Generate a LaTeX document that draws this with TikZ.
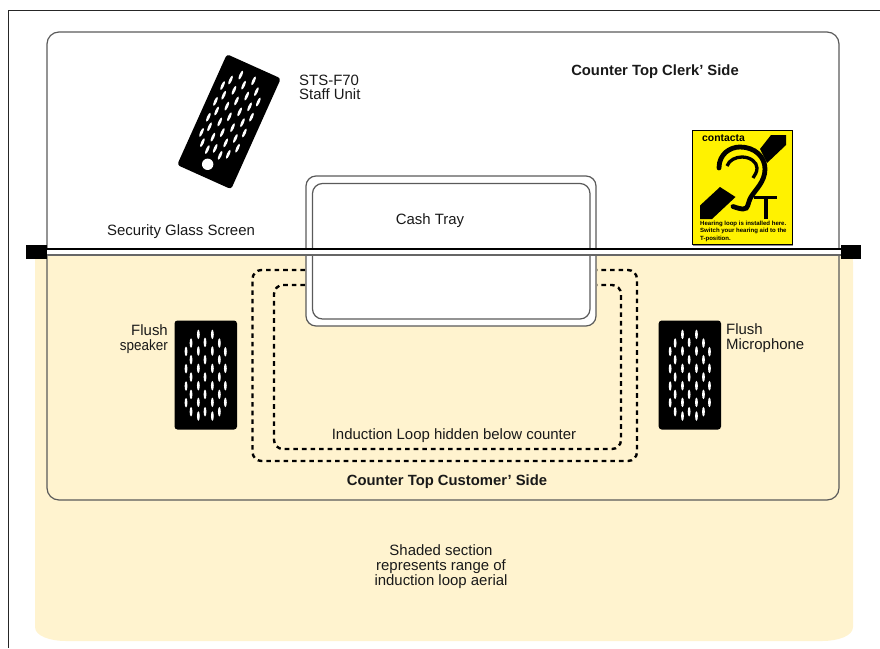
\documentclass[tikz,border=0pt]{standalone}
\usepackage{fontspec}
\setmainfont{Liberation Sans}
\definecolor{rangecol}{HTML}{FFF3CF}
\definecolor{edge}{HTML}{5A5A5A}
\definecolor{signy}{HTML}{FFF200}
\newcommand{\slotgrid}{%
  \foreach \c/\rows in {-59/{-70,-18,34,84},-44/{-95,-45,7,59,111},-22/{-121,-71,-19,33,83,124},-2/{-97,-45,7,59,111},20/{-121,-71,-19,33,83,124},41/{-95,-45,7,59,111},59/{-69,-19,33,83}}{
    \foreach \r in \rows {\fill[white] (\c,\r) ellipse [x radius=1.4pt,y radius=4.8pt];}
  }}
\tikzset{
  txt/.style={inner sep=0pt,text=black!90,font=\fontsize{14.95}{16}\selectfont},
  btxt/.style={txt,font=\fontsize{14.8}{16}\selectfont\bfseries},
  wall/.style={draw=edge,line width=1.2pt},
  loopline/.style={draw=black,line width=2.4pt,dash pattern=on 4.6pt off 4pt},
  trayline/.style={draw=edge,line width=1.2pt,rounded corners=10pt,fill=white},
  blackbox/.style={fill=black,rounded corners=3pt},
  signtxt/.style={inner sep=0pt,anchor=base west,font=\fontsize{6.05}{7}\selectfont\bfseries}
}
\begin{document}
\begin{tikzpicture}[x=1pt,y=-1pt]
\useasboundingbox (0,0) rectangle (880,648);
% frame
\draw[black!85,line width=1pt] (8.5,648) -- (8.5,10.5) -- (880,10.5);
% shaded range
\fill[rangecol] (35,258) -- (47,255) -- (848,255) .. controls (852,255) and (853,258) .. (853,262) -- (853,627)
  .. controls (853,636) and (838,641) .. (822,641) -- (66,641) .. controls (50,641) and (35,636) .. (35,627) -- cycle;
% counter
\draw[wall,rounded corners=12pt] (47,32) rectangle (839,500);
% loops
\draw[loopline,rounded corners=9pt] (305,270) -- (252.5,270) -- (252.5,461) -- (637,461) -- (637,270) -- (597,270);
\draw[loopline,rounded corners=9pt] (305,285) -- (274,285) -- (274,449) -- (621,449) -- (621,285) -- (597,285);
% tray
\draw[trayline] (306,176) rectangle (596,326);
\draw[trayline] (312.5,183.5) rectangle (590,319);
% glass
\fill[white] (47,249) rectangle (841,255);
\draw[black,line width=1.2pt] (47,249) -- (841,249);
\draw[black!60,line width=2pt] (47,255) -- (841,255);
\fill[black] (26,244.5) rectangle (47,259);
\fill[black] (841,245) rectangle (861,259);
% staff unit
\begin{scope}[shift={(229,121.7)},rotate=-24.2]
  \fill[blackbox] (-29.6,-60.7) rectangle (29.6,60.7);
  \fill[white] (-2,47.6) circle [radius=5.7pt];
  \begin{scope}[shift={(-1,-7)},x=.3333pt,y=-.3333pt]
    \slotgrid
  \end{scope}
\end{scope}
% speaker and microphone
\fill[blackbox] (174.5,320.5) rectangle (237,429.5);
\begin{scope}[shift={(205.7,374.7)},x=.3333pt,y=-.3333pt]\slotgrid\end{scope}
\fill[blackbox] (658.7,320.5) rectangle (721,429.5);
\begin{scope}[shift={(689.8,374.7)},x=.3333pt,y=-.3333pt]\slotgrid\end{scope}
% sign
\fill[black!45] (693,131) rectangle (793,245.5);
\fill[signy,draw=black,line width=.5pt] (692,130) rectangle (792,244.5);
\fill[black] (771,135) -- (786,135) -- (786,145) -- (767,163) -- (760,149) -- cycle;
\fill[black] (700,205.5) -- (720,187) -- (735.5,197) -- (712,219) -- (700,219) -- cycle;
\draw[black,line width=4.8pt,line cap=round] (719,168) .. controls (719,154) and (730,147) .. (740,147)
  .. controls (755,147) and (765,157) .. (765,169) .. controls (765,182) and (755,190) .. (751,197)
  .. controls (747,204) and (749,209) .. (743,209) .. controls (741,209) and (737,208) .. (733,206.5);
\draw[black,line width=3.3pt] (727,166) .. controls (729,160) and (736,157) .. (742,157) .. controls (750,157) and (757,162) .. (757,168) .. controls (757,172) and (755,175) .. (753,178);
\fill[black] (754,195.5) rectangle (777,199);
\fill[black] (763.5,195.5) rectangle (768,219);
\node[inner sep=0pt,anchor=base west,font=\fontsize{10.4}{10}\selectfont\bfseries] (brand) at (702,141.5) {contacta};
\node[signtxt] (sign1) at (700,225.5) {Hearing loop is installed here.};
\node[signtxt] (sign2) at (700,232.8) {Switch your hearing aid to the};
\node[signtxt] (sign3) at (700,240) {T-position.};
% labels
\node[btxt,anchor=base] (clerk) at (655,75.5) {Counter Top Clerk' Side};
\node[txt,anchor=base west] (sts) at (299,85) {STS-F70};
\node[txt,anchor=base west] (staff) at (299,99) {Staff Unit};
\node[txt,anchor=base] (glass) at (181,235) {Security Glass Screen};
\node[txt,anchor=base] (cash) at (430,224) {Cash Tray};
\node[txt,anchor=base east] (fl1) at (168,335) {Flush};
\node[txt,anchor=base east,xscale=.9] (fl2) at (168,350) {speaker};
\node[txt,anchor=base west] (fm1) at (726,334) {Flush};
\node[txt,anchor=base west] (fm2) at (726,349) {Microphone};
\node[txt,anchor=base] (ind) at (454,439) {Induction Loop hidden below counter};
\node[btxt,anchor=base] (cust) at (447,485) {Counter Top Customer' Side};
\node[txt,anchor=base] (sh1) at (441,555) {Shaded section};
\node[txt,anchor=base] (sh2) at (441,570) {represents range of};
\node[txt,anchor=base] (sh3) at (441,585) {induction loop aerial};
\end{tikzpicture}
\end{document}
